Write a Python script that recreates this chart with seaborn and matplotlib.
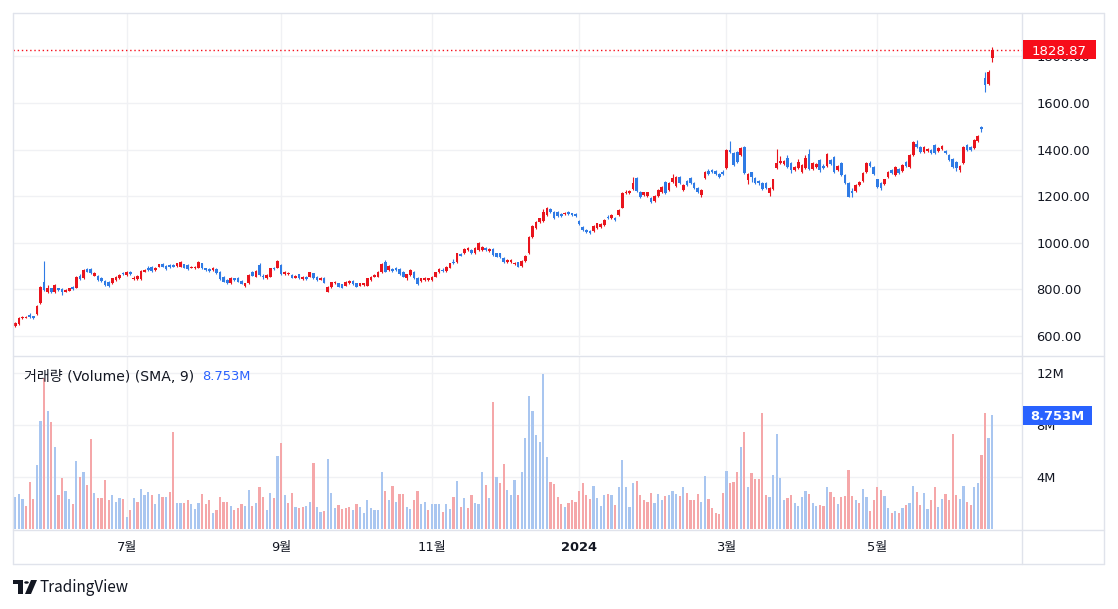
import numpy as np
import pandas as pd
import matplotlib
matplotlib.use("Agg")
import matplotlib.pyplot as plt
import matplotlib.transforms as mtransforms
from matplotlib.patches import Rectangle, Polygon, Circle
from matplotlib.lines import Line2D
import seaborn as sns

# ---------------- data ----------------
opens = [
    644, 651, 677, 679, 690, 684, 693, 740, 833, 790,
    805, 790, 805, 802, 790, 795, 812, 808, 859, 847,
    888, 888, 859, 859, 850, 836, 833, 826, 840, 847,
    869, 862, 873, 843, 845, 843, 876, 893, 898, 883,
    898, 908, 902, 905, 905, 900, 898, 908, 905, 893,
    890, 893, 912, 890, 888, 883, 888, 876, 855, 840,
    826, 847, 850, 836, 816, 826, 876, 855,
    905, 858, 847, 855, 893, 893, 905, 866, 865, 862,
    850, 865, 845, 855, 855, 869, 853, 842, 850, 790,
    809, 826, 826, 822, 816, 826, 836, 826, 816, 819,
    816, 840, 855, 855, 873, 919, 883, 888, 890, 888,
    876, 847, 862, 876, 850, 836, 840, 840, 840, 855,
    873, 885, 879, 893, 919, 916, 951, 955, 968, 969,
    955, 969, 969, 976, 965, 973, 955,
    955, 936, 919, 916, 908, 916, 902, 922, 955, 1026,
    1062, 1088, 1094, 1119, 1145, 1134, 1131, 1125, 1122, 1134,
    1126, 1122, 1094, 1069, 1055, 1051, 1052, 1062, 1069, 1076,
    1112, 1105, 1105, 1119, 1151, 1212, 1212, 1231, 1280, 1219,
    1205, 1202, 1194, 1179, 1202, 1217, 1262, 1227, 1262, 1245,
    1284, 1227, 1265, 1277, 1255, 1234, 1205, 1277, 1308, 1312,
    1308, 1294, 1302, 1320, 1398, 1384, 1391,
    1377, 1410, 1270, 1302, 1277, 1264, 1255, 1255, 1212, 1229,
    1320, 1344, 1338, 1362, 1344, 1312, 1320, 1305, 1320, 1381,
    1315, 1327, 1355, 1330, 1330, 1355, 1370, 1312, 1341, 1291,
    1258, 1224, 1224, 1248, 1267, 1305, 1344, 1327, 1272, 1255,
    1252, 1281, 1312, 1291, 1315, 1310, 1348, 1327, 1377, 1424,
    1413, 1391, 1394, 1398, 1420, 1394, 1401, 1394, 1377, 1358,
    1348, 1312, 1341, 1420, 1410, 1405, 1438, 1496, 1706, 1680,
    1792,
]
closes = [
    654, 676, 681, 682, 681, 678, 729, 812, 797, 807,
    788, 819, 796, 788, 797, 805, 800, 855, 845, 883,
    876, 869, 869, 840, 836, 819, 816, 847, 855, 862,
    865, 873, 865, 851, 858, 879, 883, 883, 879, 893,
    907, 898, 888, 896, 898, 912, 919, 893, 888, 898,
    898, 919, 890, 883, 879, 893, 869, 845, 833, 826,
    850, 840, 833, 825, 826, 862, 859, 879,
    862, 852, 862, 890, 886, 922, 865, 876, 872, 850,
    859, 847, 855, 845, 873, 847, 840, 850, 829, 812,
    830, 833, 812, 807, 833, 836, 822, 812, 826, 826,
    847, 855, 862, 876, 908, 876, 902, 879, 883, 865,
    855, 865, 883, 847, 822, 847, 847, 847, 855, 873,
    888, 879, 898, 912, 912, 955, 945, 973, 979, 955,
    979, 998, 983, 969, 973, 948, 940,
    940, 916, 926, 926, 912, 898, 922, 945, 1026, 1074,
    1091, 1105, 1131, 1148, 1134, 1105, 1116, 1116, 1129, 1122,
    1119, 1114, 1082, 1055, 1045, 1041, 1074, 1083, 1079, 1098,
    1105, 1119, 1098, 1141, 1212, 1219, 1222, 1255, 1222, 1198,
    1217, 1217, 1177, 1201, 1227, 1241, 1212, 1255, 1280, 1284,
    1255, 1248, 1248, 1255, 1237, 1217, 1227, 1305, 1294, 1302,
    1294, 1282, 1294, 1398, 1388, 1334, 1345,
    1405, 1301, 1294, 1284, 1255, 1256, 1229, 1234, 1234, 1272,
    1344, 1352, 1351, 1327, 1312, 1324, 1348, 1334, 1362, 1315,
    1341, 1337, 1312, 1322, 1381, 1338, 1305, 1330, 1291, 1255,
    1198, 1212, 1248, 1262, 1298, 1344, 1330, 1295, 1241, 1234,
    1272, 1305, 1301, 1324, 1301, 1334, 1330, 1377, 1434, 1410,
    1391, 1410, 1401, 1387, 1384, 1408, 1415, 1387, 1355, 1324,
    1320, 1330, 1410, 1398, 1398, 1441, 1458, 1487, 1677, 1735,
    1828.87,
]
highs = [
    658, 680, 684, 686, 697, 688, 732, 815, 922, 818,
    808, 823, 808, 805, 800, 808, 815, 858, 866, 887,
    891, 892, 873, 862, 853, 839, 836, 850, 858, 866,
    874, 877, 879, 856, 862, 882, 887, 899, 901, 897,
    910, 912, 905, 909, 908, 915, 922, 911, 908, 901,
    901, 922, 915, 893, 891, 896, 891, 879, 858, 843,
    853, 850, 853, 839, 829, 865, 880, 882,
    912, 866, 866, 893, 898, 926, 908, 880, 876, 866,
    862, 868, 858, 858, 876, 872, 856, 853, 853, 815,
    833, 836, 829, 825, 836, 840, 840, 829, 829, 829,
    850, 858, 865, 879, 915, 926, 905, 891, 895, 891,
    879, 868, 886, 879, 853, 850, 853, 850, 858, 876,
    891, 890, 901, 915, 930, 958, 955, 976, 982, 972,
    982, 1002, 987, 980, 976, 976, 958,
    958, 940, 930, 929, 916, 919, 925, 948, 1030, 1078,
    1095, 1108, 1145, 1152, 1149, 1138, 1135, 1129, 1133, 1138,
    1130, 1126, 1098, 1073, 1059, 1055, 1077, 1087, 1086, 1101,
    1120, 1123, 1112, 1145, 1216, 1225, 1226, 1284, 1284, 1222,
    1220, 1220, 1198, 1205, 1231, 1245, 1266, 1259, 1294, 1288,
    1288, 1252, 1269, 1281, 1259, 1238, 1231, 1309, 1316, 1318,
    1312, 1298, 1312, 1402, 1437, 1388, 1395,
    1410, 1415, 1298, 1306, 1281, 1270, 1259, 1259, 1238, 1276,
    1401, 1373, 1355, 1377, 1348, 1328, 1358, 1338, 1377, 1401,
    1345, 1341, 1359, 1338, 1385, 1359, 1374, 1334, 1345, 1295,
    1262, 1234, 1252, 1266, 1302, 1348, 1352, 1331, 1276, 1259,
    1276, 1309, 1316, 1328, 1319, 1338, 1352, 1381, 1438, 1441,
    1417, 1414, 1405, 1402, 1424, 1412, 1419, 1398, 1381, 1362,
    1352, 1334, 1414, 1424, 1416, 1445, 1464, 1501, 1732, 1742,
    1839,
]
lows = [
    640, 648, 674, 676, 678, 675, 690, 736, 794, 786,
    784, 786, 792, 778, 787, 792, 797, 805, 842, 845,
    873, 866, 856, 837, 832, 816, 812, 822, 837, 844,
    861, 859, 862, 840, 842, 840, 873, 880, 876, 880,
    895, 895, 885, 892, 895, 897, 895, 890, 885, 890,
    887, 890, 887, 880, 876, 880, 866, 842, 830, 823,
    823, 837, 830, 822, 812, 823, 856, 852,
    858, 845, 843, 852, 882, 890, 862, 863, 862, 847,
    847, 843, 842, 842, 852, 843, 837, 839, 826, 787,
    806, 823, 809, 804, 813, 823, 819, 809, 813, 816,
    813, 837, 852, 852, 870, 873, 880, 876, 879, 862,
    852, 840, 859, 843, 818, 833, 836, 837, 837, 852,
    870, 876, 876, 890, 908, 913, 942, 952, 965, 952,
    952, 965, 966, 966, 962, 945, 937,
    936, 912, 915, 912, 904, 895, 898, 919, 950, 1022,
    1058, 1084, 1090, 1115, 1130, 1101, 1112, 1112, 1118, 1118,
    1115, 1110, 1078, 1051, 1041, 1037, 1048, 1058, 1065, 1072,
    1101, 1101, 1094, 1115, 1148, 1208, 1208, 1227, 1218, 1194,
    1201, 1198, 1173, 1175, 1198, 1213, 1208, 1223, 1258, 1241,
    1251, 1223, 1244, 1251, 1233, 1213, 1198, 1273, 1290, 1298,
    1290, 1278, 1290, 1316, 1384, 1330, 1341,
    1373, 1297, 1251, 1262, 1251, 1250, 1225, 1230, 1200, 1225,
    1316, 1340, 1334, 1323, 1301, 1308, 1316, 1301, 1316, 1311,
    1311, 1323, 1305, 1315, 1326, 1334, 1301, 1308, 1287, 1251,
    1196, 1198, 1220, 1244, 1263, 1301, 1326, 1291, 1237, 1227,
    1248, 1277, 1297, 1287, 1297, 1306, 1326, 1323, 1373, 1406,
    1384, 1387, 1390, 1383, 1380, 1390, 1397, 1383, 1351, 1320,
    1308, 1305, 1337, 1394, 1394, 1401, 1434, 1477, 1649, 1677,
    1777,
]
# volume in millions, and the colour of each volume bar (r = up, b = down)
volumes = [
    2.5, 2.7, 2.3, 1.8, 3.6, 2.3, 4.9, 8.3, 11.6, 9.1,
    8.2, 6.3, 2.6, 3.9, 2.95, 2.3, 1.95, 5.2, 4.0, 4.4,
    3.4, 6.9, 2.8, 2.4, 2.4, 3.8, 2.2, 2.6, 2.05, 2.4,
    2.3, 0.95, 1.5, 2.4, 2.05, 3.1, 2.6, 2.85, 2.65, 1.9,
    2.7, 2.5, 2.5, 2.85, 7.5, 2.0, 2.0, 2.0, 2.26, 1.95,
    1.54, 2.0, 2.7, 1.9, 2.2, 1.2, 1.5, 2.5, 2.1, 2.1,
    1.8, 1.5, 1.65, 1.9, 1.8, 3.0, 1.8, 2.0, 3.2, 2.5,
    1.5, 2.8, 2.4, 5.6, 6.6, 2.6, 2.0, 2.8, 1.7, 1.65,
    1.7, 1.8, 2.05, 5.1, 1.7, 1.3, 1.4, 5.4, 2.8, 1.65,
    1.85, 1.55, 1.65, 1.7, 1.5, 1.95, 1.7, 1.2, 2.2, 1.65,
    1.5, 1.5, 4.4, 2.9, 2.2, 3.3, 2.1, 2.7, 2.7, 1.7,
    1.55, 2.2, 2.9, 1.9, 2.1, 1.5, 1.95, 1.95, 1.9, 1.3,
    1.95, 1.55, 2.5, 3.7, 1.7, 2.4, 1.65, 2.65, 2.0, 1.95,
    4.4, 3.4, 2.35, 9.8, 4.0, 3.55, 5.0, 3.0, 2.6, 3.8,
    2.6, 4.4, 7.0, 10.2, 9.1, 7.2, 6.7, 11.95, 5.56, 3.64,
    3.5, 2.5, 1.95, 1.7, 2.0, 2.2, 2.1, 2.95, 3.56, 2.64,
    2.3, 3.33, 2.4, 1.8, 2.64, 2.7, 2.64, 1.87, 3.26, 5.3,
    3.2, 1.7, 3.56, 3.7, 2.64, 2.2, 2.1, 2.8, 2.0, 2.7,
    2.26, 2.56, 2.64, 2.95, 2.7, 2.56, 3.26, 2.8, 2.26, 2.2,
    2.7, 2.1, 4.1, 2.3, 1.64, 1.26, 1.18, 2.8, 4.5, 3.56,
    3.64, 4.4, 6.33, 7.5, 3.2, 4.33, 3.87, 3.87, 8.95, 2.64,
    2.5, 4.18, 7.33, 3.95, 2.2, 2.4, 2.64, 2.0, 1.8, 2.5,
    2.95, 2.7, 2.0, 1.8, 1.87, 1.8, 3.26, 2.87, 2.5, 1.95,
    2.5, 2.56, 4.56, 2.56, 2.26, 2.0, 3.1, 2.5, 1.4, 2.26,
    3.2, 3.0, 2.56, 1.64, 1.26, 1.4, 1.26, 1.64, 1.87, 2.0,
    3.33, 2.87, 1.87, 2.8, 1.56, 2.2, 3.2, 1.7, 2.3, 2.7,
    2.26, 7.33, 2.64, 2.3, 3.33, 2.1, 1.87, 3.2, 3.56, 5.7,
    8.95, 7.0, 8.753,
]
volume_dirs = (
    "bbbrrrbbrb" "rbrrbbrbrb" "rrbrrrrbbb" "rbrbrbbbrb" "brbrrbbrrb"
    "bbrrrbrrrr" "brrrbbrbrr" "bbrbrbrrbr" "rbbrbbrbbb" "rrrrbrbbbb"
    "bbbrbrbrrb" "brrbbrbbbr" "bbrbrbrrbb" "brbrbrrbbb" "rbbbbbbbbr"
    "rrrbrrrrrr" "rbbbbrbrbb" "bbbrrrrrbb" "brbbbrbrrr" "rbbrrrrrbr"
    "rrbrbrrrrr" "bbbbbrrbbb" "brbbrrbrrb" "rrrrbrbbrr" "rrbbrbrbrb"
    "brrbbrrbbr" "rrrbbrrbbr" "rbb"
)
price_ticks = [600, 800, 1000, 1200, 1400, 1600, 1800]
volume_ticks = [4, 8, 12]
volume_tick_labels = ["4M", "8M", "12M"]
label_months = [7, 9, 11, 1, 3, 5]
start_date = "2023-05-17"
market_holidays = ["2023-05-29", "2023-06-19", "2023-07-04", "2023-09-04",
                   "2023-11-23", "2023-12-25", "2024-01-01", "2024-01-15",
                   "2024-02-19", "2024-03-29", "2024-05-27"]
volume_title = "거래량 (Volume) (SMA, 9)"
last_volume_text = "8.753M"

# ---------------- style ----------------
W, H = 1118, 609
sns.set_theme(style="white")
plt.rcParams['font.family'] = ['DejaVu Sans', 'Noto Sans CJK KR']

UP, DOWN = '#e9141d', '#2f7be5'
UP_V, DOWN_V = '#f5a7a9', '#a9c6f0'
TXT, GRID, FRAME = '#131722', '#f0f1f4', '#e0e3eb'
TAG_RED, TAG_BLUE = '#f70d1a', '#2962ff'

n = len(closes)
idx = np.arange(n)
dates = pd.bdate_range(start_date, periods=n, freq='C', holidays=market_holidays)
o = np.array(opens, float); c = np.array(closes, float)
hi = np.array(highs, float); lo = np.array(lows, float)
up = c >= o
ccol = np.where(up, UP, DOWN)

# month ticks (first bar of each labelled month)
tick_pos, tick_lab = [], []
for i in range(1, n):
    if dates[i].month != dates[i - 1].month and dates[i].month in label_months:
        tick_pos.append(i)
        tick_lab.append(str(dates[i].year) if dates[i].month == 1 else f"{dates[i].month}월")

fig = plt.figure(figsize=(W / 100, H / 100), dpi=100)
fig.patch.set_facecolor('white')

def fx(x):
    return x / W

def fy(y):
    return 1 - y / H

ax_p = fig.add_axes([fx(13), fy(355), (1022 - 13) / W, (355 - 13) / H])
ax_v = fig.add_axes([fx(13), fy(530), (1022 - 13) / W, (530 - 357) / H])
XL = (-0.64, 280.3)

# ---------------- candles ----------------
ax_p.vlines(idx, lo, hi, colors=ccol, linewidth=0.8, zorder=3)
body_lo = np.minimum(o, c)
body_h = np.maximum(np.abs(c - o), 4.3)
ax_p.bar(idx, body_h, bottom=body_lo, width=0.74, color=ccol, linewidth=0, zorder=4)
ax_p.axhline(c[-1], color=TAG_RED, linestyle=(0, (1, 2)), linewidth=1.0, zorder=2)

# ---------------- volume (seaborn) ----------------
vdf = pd.DataFrame({'i': idx, 'vol': volumes, 'dir': list(volume_dirs)})
sns.barplot(data=vdf, x='i', y='vol', hue='dir', palette={'r': UP_V, 'b': DOWN_V},
            native_scale=True, dodge=False, width=0.62, saturation=1,
            errorbar=None, legend=False, linewidth=0, ax=ax_v)

for ax in (ax_p, ax_v):
    ax.set_xlim(*XL)
    ax.set_facecolor('none')
    for s in ax.spines.values():
        s.set_visible(False)
    ax.set_xticks(tick_pos)
    ax.grid(True, color=GRID, linewidth=1.0)
    ax.set_axisbelow(True)
    ax.yaxis.tick_right()
    ax.tick_params(axis='y', length=0, labelsize=9.4, labelcolor=TXT, pad=10.5)
    ax.tick_params(axis='x', length=0, labelsize=9.4, labelcolor=TXT, pad=8)
    ax.set_xlabel('')
    ax.set_ylabel('')

ax_p.set_ylim(518.5, 1986.3)
ax_p.set_yticks(price_ticks)
ax_p.set_yticklabels([f"{t:.2f}" for t in price_ticks])
ax_p.set_xticklabels([])

ax_v.set_ylim(-1 / 13, 172 / 13)
ax_v.set_yticks(volume_ticks)
ax_v.set_yticklabels(volume_tick_labels)
ax_v.set_xticklabels(tick_lab)
for lbl in ax_v.get_xticklabels():
    if lbl.get_text().isdigit():
        lbl.set_fontweight('bold')

# ---------------- frame lines ----------------
def hline(y, x0, x1):
    fig.add_artist(Line2D([fx(x0), fx(x1)], [fy(y), fy(y)], transform=fig.transFigure,
                          color=FRAME, linewidth=1.0))

def vline(x, y0, y1):
    fig.add_artist(Line2D([fx(x), fx(x)], [fy(y0), fy(y1)], transform=fig.transFigure,
                          color=FRAME, linewidth=1.0))

hline(13, 13, 1104); hline(564, 13, 1104); hline(356, 13, 1104); hline(530, 13, 1104)
vline(13, 13, 564); vline(1104, 13, 564); vline(1022, 13, 564)

# ---------------- last value tags ----------------
bp = mtransforms.blended_transform_factory(fig.transFigure, ax_p.transData)
ppx = (1986.3 - 518.5) / (355 - 13)
fig.add_artist(Rectangle((fx(1023), c[-1] - 9.5 * ppx), (1096 - 1023) / W, 19 * ppx,
                         transform=bp, facecolor=TAG_RED, edgecolor='none', zorder=5))
fig.text(fx(1059.5), c[-1], f"{c[-1]:.2f}", transform=bp, ha='center', va='center_baseline',
         color='white', fontsize=9.6, zorder=6)

bv = mtransforms.blended_transform_factory(fig.transFigure, ax_v.transData)
vpx = (172 / 13 + 1 / 13) / (530 - 357)
fig.add_artist(Rectangle((fx(1023), volumes[-1] - 9.5 * vpx), (1092 - 1023) / W, 19 * vpx,
                         transform=bv, facecolor=TAG_BLUE, edgecolor='none', zorder=5))
fig.text(fx(1057.5), volumes[-1], last_volume_text, transform=bv, ha='center',
         va='center_baseline', color='white', fontsize=9.4, fontweight='bold', zorder=6)

# ---------------- volume legend ----------------
fig.text(fx(24), fy(377), volume_title, ha='left', va='center', color=TXT, fontsize=10.1)
fig.text(fx(202), fy(377), last_volume_text, ha='left', va='center', color=TAG_BLUE, fontsize=9.4)

# ---------------- TradingView logo ----------------
fig.add_artist(Polygon([(fx(13), fy(580)), (fx(23), fy(580)), (fx(23), fy(594)),
                        (fx(18), fy(594)), (fx(18), fy(584)), (fx(13), fy(584))],
                       closed=True, transform=fig.transFigure, facecolor=TXT, edgecolor='none'))
fig.add_artist(Circle((fx(26.5), fy(582.5)), 2.3 / W, transform=fig.transFigure,
                      facecolor=TXT, edgecolor='none'))
fig.add_artist(Polygon([(fx(31), fy(580)), (fx(37), fy(580)), (fx(31), fy(594)),
                        (fx(25), fy(594))],
                       closed=True, transform=fig.transFigure, facecolor=TXT, edgecolor='none'))
fig.text(fx(40), fy(587), "TradingView", ha='left', va='center', color=TXT, fontsize=11,
         family=['Noto Sans CJK KR'])

fig.savefig("out.png", dpi=100, facecolor='white')
